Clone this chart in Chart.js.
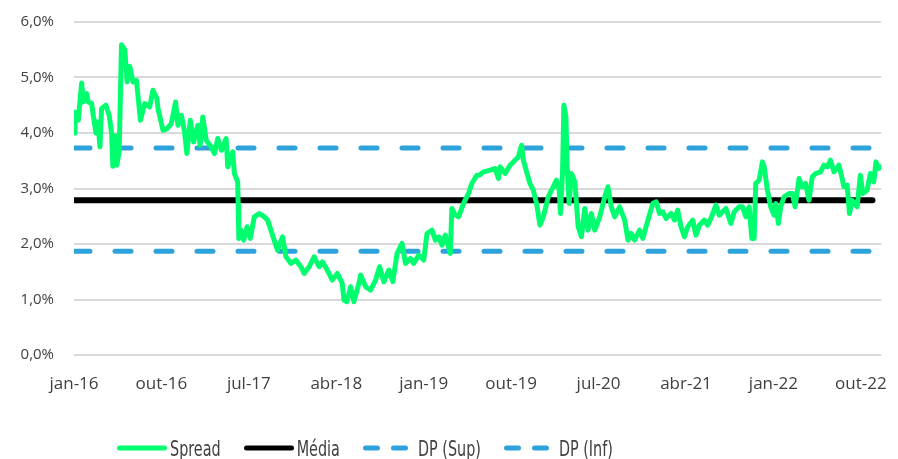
<!DOCTYPE html>
<html>
<head>
<meta charset="utf-8">
<script src="https://cdn.jsdelivr.net/npm/chart.js@4/dist/chart.umd.min.js"></script>
<style>
  html, body { margin: 0; padding: 0; background: #fff; }
  #wrap { position: relative; width: 898px; height: 459px; }
  #legenda {
    position: absolute; left: 117px; top: 436px; height: 24px;
    display: flex; align-items: center;
    font-family: "Liberation Sans Narrow", "DejaVu Sans Condensed", sans-serif;
    font-size: 16px; color: #404040;
  }
  #legenda .item { display: flex; align-items: center; margin-right: 23px; }
  #legenda svg { display: block; margin-right: 3px; }
  #legenda span { display: inline-block; transform: scale(1, 1.3); }
</style>
</head>
<body>
<div id="wrap">
  <canvas id="grafico" width="898" height="459"></canvas>
  <div id="legenda"></div>
</div>
<script>
// ===== Dados =====
// eixo x em meses a partir de jan-16 (0 = jan-16)
const tickMeses = [0, 9, 18, 27, 36, 45, 54, 63, 72, 81];
const tickRotulos = ['jan-16', 'out-16', 'jul-17', 'abr-18', 'jan-19', 'out-19', 'jul-20', 'abr-21', 'jan-22', 'out-22'];

const spreadMes = [
  0.0, 0.1, 0.44, 0.79, 0.95, 1.3, 1.47, 1.82, 1.98, 2.26, 2.46, 2.67, 2.84, 3.28, 3.62, 3.87,
  4.0, 4.26, 4.41, 4.65, 4.89, 5.23, 5.47, 5.74, 6.08, 6.43, 6.84, 7.28, 7.79, 8.13, 8.54, 8.65,
  9.16, 9.54, 10.02, 10.46, 10.7, 11.05, 11.38, 11.62, 11.97, 12.31, 12.75, 12.99, 13.26, 13.61,
  14.12, 14.46, 14.8, 15.18, 15.66, 15.83, 16.34, 16.51, 16.85, 16.9, 16.97, 17.2, 17.47, 17.82,
  18.15, 18.56, 19.08, 19.59, 19.93, 20.44, 20.95, 21.47, 21.82, 22.33, 22.84, 23.35, 23.69,
  24.21, 24.72, 25.23, 25.57, 26.08, 26.59, 27.11, 27.62, 27.79, 28.1, 28.48, 28.82, 29.33,
  29.51, 30.02, 30.53, 31.05, 31.46, 31.9, 32.41, 32.82, 33.26, 33.77, 34.12, 34.64, 34.97,
  35.49, 36.0, 36.34, 36.85, 37.2, 37.54, 37.88, 38.23, 38.74, 38.9, 39.25, 39.59, 40.1, 40.62,
  40.95, 41.47, 41.74, 42.15, 42.84, 43.35, 43.69, 43.87, 44.38, 44.89, 45.41, 45.74, 46.08,
  46.26, 46.59, 46.94, 47.28, 47.62, 47.97, 48.31, 48.82, 49.33, 49.67, 49.95, 50.08, 50.29,
  50.43, 50.64, 50.77, 50.97, 51.21, 51.56, 51.9, 52.24, 52.58, 52.92, 53.26, 53.61, 54.12,
  54.64, 54.97, 55.31, 55.66, 56.17, 56.69, 57.03, 57.36, 57.71, 58.23, 58.56, 59.08, 59.59,
  59.93, 60.28, 60.62, 60.95, 61.47, 61.82, 62.15, 62.49, 62.84, 63.18, 63.69, 64.03, 64.38,
  64.89, 65.23, 65.57, 66.08, 66.43, 66.77, 67.11, 67.62, 67.97, 68.48, 68.82, 69.16, 69.5,
  69.78, 70.02, 70.18, 70.53, 70.87, 71.05, 71.38, 71.72, 72.07, 72.24, 72.51, 72.75, 73.1,
  73.61, 73.95, 74.23, 74.64, 74.97, 75.31, 75.66, 76.0, 76.34, 76.85, 77.2, 77.54, 77.88,
  78.23, 78.74, 79.08, 79.25, 79.59, 79.83, 80.1, 80.62, 80.95, 81.2, 81.64, 81.98, 82.33,
  82.56, 82.84, 83.0
];
const spreadValor = [
  4.00, 4.38, 4.23, 4.90, 4.56, 4.71, 4.56, 4.53, 4.32, 4.00, 4.20, 3.75, 4.44, 4.50, 4.32, 4.00,
  3.40, 3.95, 3.42, 3.66, 5.59, 5.50, 4.92, 5.20, 4.92, 4.95, 4.23, 4.53, 4.47, 4.77, 4.62, 4.44,
  4.05, 4.07, 4.17, 4.56, 4.14, 4.32, 4.02, 3.63, 4.23, 3.84, 4.14, 3.78, 4.29, 3.87,
  3.75, 3.63, 3.90, 3.69, 3.90, 3.39, 3.66, 3.27, 3.12, 2.70, 2.10, 2.25, 2.07, 2.31,
  2.10, 2.49, 2.55, 2.49, 2.43, 2.16, 1.89, 2.13, 1.77, 1.65, 1.71, 1.59, 1.47,
  1.59, 1.77, 1.59, 1.68, 1.53, 1.35, 1.47, 1.29, 0.99, 0.96, 1.23, 0.96, 1.29,
  1.44, 1.23, 1.17, 1.35, 1.59, 1.32, 1.53, 1.32, 1.83, 2.01, 1.65, 1.74, 1.65,
  1.80, 1.71, 2.19, 2.25, 2.07, 2.13, 1.98, 2.16, 1.83, 2.64, 2.52, 2.49, 2.73, 2.91,
  3.09, 3.24, 3.24, 3.30, 3.33, 3.36, 3.18, 3.39, 3.27, 3.42, 3.51, 3.57, 3.78,
  3.51, 3.30, 3.09, 2.97, 2.73, 2.34, 2.49, 2.85, 3.03, 3.15, 2.97, 2.55, 3.27,
  4.50, 4.29, 3.39, 2.73, 3.27, 3.12, 2.31, 2.13, 2.64, 2.25, 2.55, 2.25, 2.49,
  2.85, 3.03, 2.67, 2.49, 2.67, 2.43, 2.07, 2.19, 2.07, 2.25, 2.10, 2.43, 2.73,
  2.76, 2.55, 2.58, 2.46, 2.55, 2.43, 2.61, 2.31, 2.13, 2.31, 2.43, 2.16, 2.34,
  2.43, 2.34, 2.46, 2.70, 2.52, 2.58, 2.64, 2.37, 2.58, 2.67, 2.67, 2.49, 2.67,
  2.10, 2.10, 3.09, 3.15, 3.48, 3.39, 2.97, 2.67, 2.52, 2.73, 2.37, 2.67, 2.85,
  2.91, 2.91, 2.67, 3.18, 3.03, 3.09, 2.79, 3.21, 3.27, 3.30, 3.42, 3.39, 3.51,
  3.30, 3.42, 3.18, 3.03, 3.06, 2.55, 2.79, 2.67, 3.24, 2.91, 2.97, 3.27, 3.12,
  3.48, 3.36, 3.39
];

const media = 2.79;
const dpSup = 3.73;
const dpInf = 1.87;
const mediaFim = 82.2;   // última data da média
const xMax = 83.1;

// ===== Cores =====
const verde = '#00FF6E';
const azul = '#2EA2DB';

function linhaHorizontal(valor, fim) {
  return [{ x: 0, y: valor }, { x: fim, y: valor }];
}

const datasets = [
  {
    label: 'Spread',
    data: spreadMes.map((m, i) => ({ x: m, y: spreadValor[i] })),
    borderColor: verde, borderWidth: 5, pointRadius: 0,
    borderJoinStyle: 'round', borderCapStyle: 'round', tension: 0
  },
  {
    label: 'Média',
    data: linhaHorizontal(media, mediaFim),
    borderColor: '#000000', borderWidth: 6, pointRadius: 0, borderCapStyle: 'round'
  },
  {
    label: 'DP (Sup)',
    data: linhaHorizontal(dpSup, xMax),
    borderColor: azul, borderWidth: 5, pointRadius: 0,
    borderDash: [16, 25], borderCapStyle: 'round'
  },
  {
    label: 'DP (Inf)',
    data: linhaHorizontal(dpInf, xMax),
    borderColor: azul, borderWidth: 5, pointRadius: 0,
    borderDash: [16, 25], borderCapStyle: 'round'
  }
];

const grafico = new Chart(document.getElementById('grafico'), {
  type: 'line',
  data: { datasets: datasets },
  options: {
    responsive: false,
    animation: false,
    layout: { padding: { top: 22, right: 14, bottom: 59, left: 0 } },
    plugins: { legend: { display: false }, tooltip: { enabled: false } },
    scales: {
      x: {
        type: 'linear', min: 0, max: xMax,
        grid: { display: false },
        border: { display: false },
        afterBuildTicks: s => { s.ticks = tickMeses.map(v => ({ value: v })); },
        afterFit: s => { s.height = 45; },
        ticks: {
          autoSkip: false, maxRotation: 0, padding: 11,
          color: '#404040',
          font: { family: '"Open Sans", sans-serif', size: 17 },
          callback: v => tickRotulos[tickMeses.indexOf(v)]
        }
      },
      y: {
        min: 0, max: 6,
        grid: { color: '#d9d9d9', lineWidth: 2, drawTicks: false },
        border: { display: false },
        afterFit: s => { s.width = 74; s.paddingTop = 0; s.paddingBottom = 0; },
        ticks: {
          stepSize: 1, padding: 20, color: '#404040',
          font: { family: '"Open Sans", sans-serif', size: 15 },
          callback: v => v.toFixed(1).replace('.', ',') + '%'
        }
      }
    }
  }
});

// ===== Legenda =====
function amostra(ds) {
  if (ds.borderDash) {
    return '<svg width="52" height="10"><line x1="2.5" y1="5" x2="45" y2="5" stroke="' + ds.borderColor +
      '" stroke-width="5" stroke-linecap="round" stroke-dasharray="12,16"/></svg>';
  }
  return '<svg width="50" height="10"><line x1="2.5" y1="5" x2="47.5" y2="5" stroke="' + ds.borderColor +
    '" stroke-width="5" stroke-linecap="round"/></svg>';
}
const leg = document.getElementById('legenda');
grafico.data.datasets.forEach(ds => {
  const d = document.createElement('div');
  d.className = 'item';
  d.innerHTML = amostra(ds) + '<span>' + ds.label + '</span>';
  leg.appendChild(d);
});
</script>
</body>
</html>
